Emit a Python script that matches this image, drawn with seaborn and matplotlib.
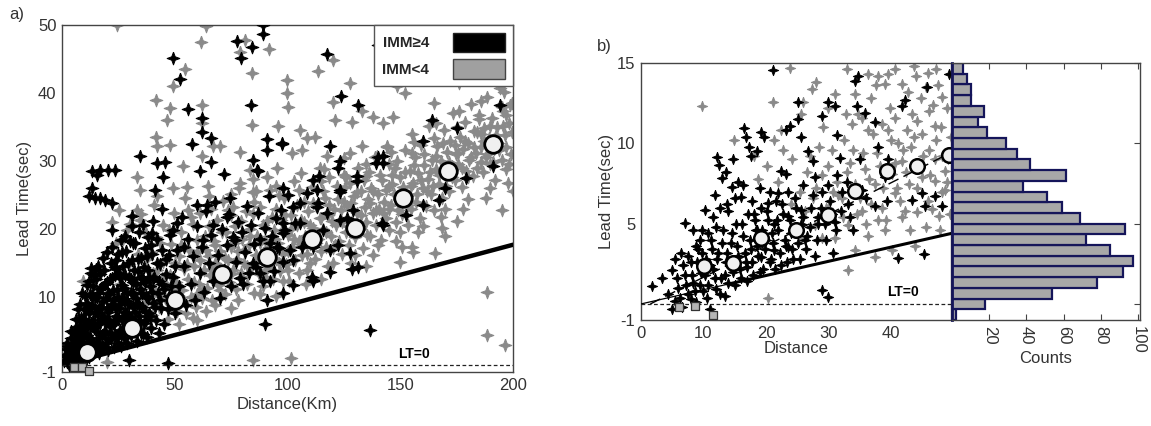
import numpy as np
import pandas as pd
import matplotlib
matplotlib.use("Agg")
import matplotlib.pyplot as plt
import seaborn as sns
from matplotlib.patches import Patch

# ---------------- Panel a data (Distance km, Lead time s) ----------------
a_hi_pts = [  # IMM >= 4 (black)
    (1.3,1.5),(2.0,0.4),(2.8,1.2),(3.2,0.0),(3.6,2.2),(4.1,0.9),(4.5,3.0),(5.0,1.8),(5.4,0.3),(5.8,3.8),(6.0,2.6),
    (6.5,1.2),(6.9,4.6),(7.2,3.2),(7.5,0.6),(7.9,5.8),(8.2,2.2),(8.5,7.0),(8.8,4.2),(9.2,1.4),(9.5,5.4),(9.8,8.3),(9.9,3.0),
    (10.3,6.6),(10.6,0.8),(10.9,9.2),(11.2,4.4),(11.5,2.4),(11.8,7.6),(12.2,10.4),(12.5,5.6),(12.8,1.6),(13.1,8.8),(13.4,3.6),(13.7,11.6),(13.9,6.6),(13.0,14.3),
    (14.3,2.4),(14.6,9.8),(14.9,5.0),(15.2,12.6),(15.5,7.6),(15.8,3.4),(16.1,10.6),(16.4,1.8),(16.7,6.2),(17.0,13.4),(17.3,8.6),(17.6,4.4),(17.9,11.4),(15.0,14.2),
    (18.2,2.6),(18.5,7.0),(18.8,14.0),(19.1,5.0),(19.4,9.8),(19.7,3.2),(20.0,12.2),(20.3,7.8),(20.6,2.2),(20.9,10.4),(21.2,5.8),(21.5,15.0),(21.8,8.6),(21.9,3.8),
    (22.3,12.8),(22.6,6.2),(22.9,2.6),(23.2,9.6),(23.5,4.4),(23.8,14.2),(24.1,7.2),(24.4,11.0),(24.7,3.2),(25.0,16.3),(25.3,8.4),(25.6,5.2),(25.9,12.8),(26.2,2.8),(26.5,9.8),(26.8,6.6),
    (27.1,14.6),(27.4,4.0),(27.7,11.4),(28.0,7.8),(28.3,16.8),(28.6,3.2),(28.9,9.4),(29.2,5.6),(29.5,13.0),(29.8,0.8),(30.1,7.0),(30.4,10.8),(30.7,4.4),(31.0,15.4),(31.3,8.6),(31.6,12.2),
    (32.0,5.8),(32.4,17.9),(32.8,9.8),(33.2,3.6),(33.6,13.8),(34.0,7.2),(34.4,11.2),(34.8,4.8),(35.2,15.8),(35.6,8.6),(36.0,12.6),(36.4,6.2),(36.8,17.2),(37.2,10.2),(37.6,4.2),
    (38.0,14.0),(38.5,7.6),(39.0,11.6),(39.5,5.4),(40.0,16.4),(40.5,9.2),(41.0,13.0),(41.5,6.6),(42.0,18.6),(42.5,10.6),(43.0,4.8),(43.5,14.8),(44.0,8.4),(44.5,12.0),(45.0,6.0),
    (46,15.6),(47,0.3),(47.5,10.2),(48,19.2),(49,13.0),(50,7.6),(51,17.0),(52,11.6),(53,21.8),(54,14.6),(55,8.8),(56,18.6),(57,12.0),(58,16.0),(59,9.6),
    (60,20.4),(61,13.6),(62,17.4),(63,10.8),(64,22.6),(65,15.0),(66,19.2),(67,12.4),(68,24.0),(69,16.2),(70,9.8),(71,20.0),(72,14.0),(73,17.6),(74,22.2),
    (75,11.6),(76,18.8),(77,15.2),(78,21.0),(79,12.8),(80,19.6),(81,16.6),(82,23.4),(83,13.6),(84,20.6),(85,17.8),(86,14.4),(87,22.4),(88,18.6),(89,12.4),
    (90,20.2),(91,16.4),(92,24.8),(93,19.0),(94,13.8),(95,21.6),(96,17.2),(97,22.8),(98,15.2),(99,19.8),(100,25.0),
    (26.5,16.7),(31.6,17.9),(30.9,21.9),(40.5,21.2),(44.2,22.9),(50.9,20.9),(54,17.4),(59.7,23.6),(64.2,23.6),(67.1,20.6),(62.7,18.4),
    (74.5,24.5),(73,21.8),(76.7,18.4),(80.4,12.0),(84.8,15.0),(92.3,17.9),(98.1,20.9),(102.5,23.3),(105.5,23.8),(103.3,20.9),(111.4,27.2),
    (113,25.8),(113,23.3),(115.9,19.9),(106.5,17.4),(102.5,15.5),(110.7,13.0),(111.2,12.3),(123.3,25.8),(126.3,21.6),(122.5,17.7),(128.5,14.2),(131.4,14.5),
    (160.2,32.9),(163.9,36.1),(175,34.8),(194.3,38.3),(169.8,26.0),(167.3,24.3),(179.2,27.5),(191,29.2),(160.2,23.6),(152.6,22.1),(142.2,20.6),
    (139.2,29.7),(142.5,29.7),(130.7,27.0),(122.5,29.0),(118.8,32.2),(114,27.8),(123.3,25.5),(108.5,25.3),(98,26.0),(97.4,32.6),(91,31.6),(86.3,28.7),
    (113.4,23.8),(117.4,22.3),(123.3,21.4),(129.2,22.8),(105.5,20.9),(98.1,19.4),(95.2,17.4),(101.1,16.9),(111.4,17.4),(118.8,16.9),(127.7,16.5),
    (118.8,13.7),(111.4,12.5),(102.5,11.8),(92.2,12.3),(87.8,13.5),(90.8,9.6),(98.1,10.6),(141.8,20.9),
    (90,6.1),(136.5,5.2),
    (49.4,45.1),(52.3,42.0),(56,37.6),(62.2,36.4),(62,34.2),(66,33.4),(57.5,32.5),(65.9,29.8),(61.2,28.5),(72,28.1),(77.5,47.7),(79.4,45.1),
    (84.4,46.7),(89,50.0),(89,48.7),(83.8,38.2),(84.8,30.2),(87,28.5),(91,33.3),(97.4,32.5),(117.4,45.7),(123.7,39.6),(131.1,38.2),(123.3,30.0),
    (140,47.1),(144,49.9),(140.3,30.6),(142.5,30.7),(130.7,27.8),
    (13.2,28.5),(15.4,28.0),(16.9,28.7),(20.5,28.7),(23.5,28.7),(13.2,26.0),(12.1,24.8),(14.6,24.5),(16.9,24.5),(19.1,24.3),(22.0,23.9),
    (22.0,19.9),(23.5,14.5),(30.9,20.4),(41.2,25.8),(44.9,27.7),(42.0,29.7),(45.7,29.9),(34.6,30.7),
]
a_hi_dense = [  # extra readings in the solid black mass near the origin
    (1.0,0.6),(1.8,2.4),(2.4,3.2),(3.0,1.6),(3.8,4.0),(4.4,2.0),(5.2,4.8),(5.6,1.0),(6.2,5.6),(6.6,3.6),(7.0,2.0),(7.4,6.6),(7.8,4.0),
    (8.2,1.0),(8.6,5.0),(9.0,3.4),(9.4,6.8),(9.8,2.2),(10.2,4.8),(10.6,8.2),(11.0,3.4),(11.4,6.0),(11.8,1.2),(12.2,8.4),(12.6,4.0),
    (13.0,6.2),(13.4,10.2),(13.8,2.0),(14.2,5.4),(14.6,7.8),(15.0,3.0),(15.4,10.0),(15.8,6.0),(16.2,8.4),(16.6,4.0),(17.0,11.2),
    (17.4,2.4),(17.8,7.2),(18.2,9.4),(18.6,4.8),(19.0,12.0),(19.4,6.2),(19.8,8.2),(20.2,3.8),(20.6,10.6),(21.0,6.6),(21.4,12.6),
    (21.8,4.8),(22.2,9.0),(22.6,11.0),(23.0,6.0),(23.4,13.2),(23.8,8.2),(24.2,4.2),(24.6,10.0),(25.0,6.8),(25.4,13.6),(25.8,9.0),
    (26.2,4.8),(26.6,11.8),(27.0,7.2),(27.4,9.6),(27.8,13.2),(28.2,5.6),(28.6,10.6),(29.0,7.6),(29.4,15.0),(29.8,9.0),(30.2,5.2),
    (30.6,12.6),(31.0,6.8),(31.4,10.4),(31.8,14.0),(32.2,7.8),(32.6,12.0),(33.0,5.0),(33.4,9.2),(33.8,15.6),(34.2,8.8),(34.6,6.4),
    (35.0,13.0),(35.4,10.6),(35.8,4.6),(36.2,14.4),(36.6,8.0),(37.0,12.2),(37.4,6.6),(37.8,16.0),(38.2,9.8),(38.6,13.0),(39.0,7.2),
    (39.4,17.6),(39.8,10.8),(40.4,12.6),(41.2,8.6),(42.0,15.0),(42.8,12.4),(43.6,9.6),(44.4,17.0),(45.2,11.2),(46.0,13.4),(46.8,8.2),
    (47.6,16.2),(48.4,11.6),(49.2,19.8),(50.0,14.6),(10.0,10.2),(11.0,11.8),(12.0,12.4),(14.0,13.2),(16.0,14.6),(18.0,15.8),(20.0,16.6),
    (22.0,17.4),(24.0,15.4),(26.0,18.4),(28.0,19.0),(30.0,18.2),(34.0,19.6),(36.0,20.6),(38.0,18.8),(40.0,19.4),(8.0,9.0),(6.0,6.8),
    (4.0,5.0),(2.2,2.8),(7.0,8.2),(9.0,10.6),(12.8,13.6),
]
a_lo_pts = [  # IMM < 4 (grey)
    (19.8,0.4),(9.4,12.4),(21,6.0),(23,10.0),(24,18.0),(22,21.0),(25.3,22.8),(28.7,19.9),(34.6,21.4),(33.1,22.8),
    (25.5,12.0),(26.4,8.6),(27.2,18.6),(28.1,10.4),(28.8,6.4),(29.5,14.8),(30.3,20.8),(31.2,9.2),(32.0,12.6),(32.8,4.6),(33.5,16.4),(34.2,7.8),(34.9,22.2),(35.0,11.2),
    (35.8,14.2),(36.5,5.6),(37.2,19.4),(37.9,9.6),(38.6,12.4),(39.3,16.6),(40.0,7.4),(40.7,23.6),(41.4,11.0),(42.1,14.0),(42.8,8.6),(43.5,18.0),(44.2,12.8),(44.9,20.6),
    (45.6,9.8),(46.3,15.4),(47.0,6.8),(47.7,13.2),(48.4,17.8),(49.1,10.6),(49.8,22.4),(50.5,12.2),(51.2,8.0),(51.9,16.0),(52.6,19.6),(53.3,11.0),(54.0,14.2),(54.7,24.6),(55.0,7.6),
    (55.8,12.6),(56.5,17.0),(57.2,10.0),(57.9,20.8),(58.6,14.6),(59.3,8.6),(60.0,16.6),(60.7,12.0),(61.4,22.4),(62.1,9.8),(62.8,14.0),(63.5,19.0),(64.2,11.4),(64.9,26.4),(65.0,16.0),
    (65.8,13.2),(66.5,9.6),(67.2,18.2),(67.9,15.0),(68.6,21.4),(69.3,11.8),(70.0,16.8),(70.7,13.6),(71.4,24.2),(72.1,10.4),(72.8,19.6),(73.5,15.4),(74.2,12.2),(74.9,22.0),(75.0,17.4),
    (75.8,14.0),(76.5,20.4),(77.2,11.2),(77.9,16.8),(78.6,26.0),(79.3,13.6),(80.0,18.6),(80.7,15.0),(81.4,22.6),(82.1,12.0),(82.8,17.6),(83.5,20.0),(84.2,14.6),(84.9,27.4),(85.0,10.6),
    (85.8,16.2),(86.5,19.0),(87.2,13.4),(87.9,23.2),(88.6,15.8),(89.3,11.6),(90.0,18.4),(90.7,21.2),(91.4,14.4),(92.1,25.8),(92.8,17.0),(93.5,12.6),(94.2,19.8),(94.9,15.6),(95.0,23.0),
    (95.8,18.0),(96.5,13.8),(97.2,21.4),(97.9,16.4),(98.6,24.6),(99.3,14.8),(100.0,19.2),(100.7,12.4),(101.4,22.0),(102.1,17.4),(102.8,27.0),(103.5,15.4),(104.2,20.6),(104.9,18.2),(105.0,13.6),
    (105.8,21.4),(106.5,16.2),(107.2,24.0),(107.9,19.0),(108.6,14.0),(109.3,22.6),(110.0,17.8),(110.7,26.2),(111.4,20.2),(112.1,15.6),(112.8,23.4),(113.5,18.6),(114.2,29.0),(114.9,21.6),(115.0,16.8),
    (115.8,20.0),(116.5,24.6),(117.2,17.4),(117.9,22.0),(118.6,27.6),(119.3,19.0),(120.0,15.0),(120.7,23.0),(121.4,20.6),(122.1,26.4),(122.8,18.2),(123.5,22.8),(124.2,16.4),(124.9,24.0),(125.0,30.4),
    (125.8,19.6),(126.5,23.4),(127.2,17.6),(127.9,26.8),(128.6,21.2),(129.3,24.8),(130.0,18.8),(130.7,22.4),(131.4,29.0),(132.1,20.0),(132.8,25.6),(133.5,17.2),(134.2,23.2),(134.9,27.8),(135.0,21.0),
    (135.8,24.4),(136.5,19.0),(137.2,26.0),(137.9,22.4),(138.6,30.6),(139.3,20.6),(140.0,25.2),(140.7,23.0),(141.4,18.4),(142.1,27.2),(142.8,24.0),(143.5,21.6),(144.2,32.0),(144.9,26.4),(145.0,19.8),
    (145.8,23.6),(146.5,28.0),(147.2,25.2),(147.9,21.0),(148.6,30.0),(149.3,24.4),(150.0,27.6),(150.7,22.2),(151.4,26.2),(152.1,31.6),(152.8,24.8),(153.5,20.6),(154.2,28.6),(154.9,23.0),(155.0,34.0),
    (155.8,26.8),(156.5,30.6),(157.2,24.0),(157.9,28.2),(158.6,21.6),(159.3,32.4),(160.0,26.0),(160.7,29.4),(161.4,23.4),(162.1,27.4),(162.8,35.2),(163.5,25.2),(164.2,30.2),(164.9,22.8),
    (165.8,28.8),(166.5,32.2),(167.2,26.6),(167.9,30.0),(168.6,24.6),(169.3,34.6),(170.0,28.0),(170.7,31.4),(171.4,25.6),(172.1,33.0),(172.8,29.2),(173.5,37.0),(174.2,27.2),(174.9,31.0),
    (175.8,29.6),(176.5,33.6),(177.2,26.2),(177.9,31.8),(178.6,35.8),(179.3,28.6),(180.0,32.6),(180.7,30.2),(181.4,38.4),(182.1,27.8),(182.8,34.4),(183.5,31.2),(184.2,29.0),(184.9,36.2),
    (185.8,32.0),(186.5,28.4),(187.2,34.8),(187.9,30.6),(188.6,39.4),(189.3,33.4),(190.0,29.6),(190.7,36.4),(191.4,31.8),(192.1,27.2),(192.8,35.0),(193.5,32.6),(194.2,40.8),(194.9,30.2),
    (195.6,37.4),(196.3,33.8),(197.0,28.8),(197.7,42.0),(198.4,35.6),(199.1,31.0),(199.6,38.6),
    (24.5,50.0),(63.7,49.8),(61.6,47.5),(81,47.8),(79,46.1),(91.9,46.5),(84.4,42.9),(54.5,43.6),(49.4,41.0),(41.7,38.9),(47.9,37.8),(46.4,36.1),
    (41.7,33.5),(42,32.2),(47.9,32.4),(53.8,29.3),(62,38.3),(62,35.6),(66.8,32.2),(70,32.2),(78.9,31.4),(84.4,35.3),(83.4,28.7),(95.9,35.1),
    (99.6,41.9),(99.6,40.0),(100.4,38.0),(105.5,34.6),(108.5,33.4),(112.2,33.6),(113.4,43.2),(120,44.9),(120,38.7),(121,36.1),(127.7,41.4),
    (128.5,35.8),(132.9,37.3),(138,36.5),(142.5,35.6),(146.9,36.5),(145.5,42.4),(148.4,41.0),(33.1,27.7),(34.6,25.8),(42,24.8),(49.4,26.0),
    (55.3,26.2),(62,30.7),(78.9,26.8),(84.8,25.5),(90.8,27.7),(95.2,29.0),(101.9,31.2),(106.3,31.6),(117.4,30.7),(127.7,31.2),(132.9,32.2),
    (139.6,30.7),(144,32.2),(152,40.0),(158,44.0),(165,38.6),(176,41.4),(186,38.8),(197,36.8),(198.7,38.3),
    (84.6,0.7),(101.6,1.0),(188.6,10.7),(188.3,4.4),(196.5,3.0),
    (60,6.6),(75,8.4),(95,10.2),(115,12.6),(135,14.6),(155,17.4),(175,21.2),(195,22.8),(170,19.0),(150,15.2),
    (165.4,16.5),(168.4,20.1),(155.8,16.7),(150.6,17.4),
]
a_lo_band = [  # extra readings in the dense grey band
    (36.2,9.0),(37.6,15.6),(38.9,6.6),(40.3,13.6),(41.8,18.8),(43.2,10.2),(44.6,15.2),(46.0,12.0),(47.3,19.8),(48.7,8.8),(50.1,15.0),
    (51.5,11.2),(52.9,17.6),(54.3,9.4),(55.6,14.8),(57.0,21.8),(58.4,12.2),(59.8,18.4),(61.1,15.4),(62.5,11.2),(63.9,17.0),(65.3,20.4),
    (66.6,14.2),(68.0,17.6),(69.4,12.8),(70.8,19.6),(72.2,15.8),(73.6,22.8),(75.0,13.4),(76.4,18.0),(77.8,15.6),(79.2,21.2),(80.6,17.0),
    (82.0,14.6),(83.4,19.0),(84.8,22.2),(86.2,15.0),(87.6,18.0),(89.0,20.6),(90.4,14.0),(91.8,17.4),(93.2,21.8),(94.6,18.6),(96.0,15.0),
    (97.4,19.8),(98.8,22.0),(100.2,16.8),(101.6,20.0),(103.0,18.6),(104.4,23.6),(105.8,17.8),(107.2,21.0),(108.6,16.4),(110.0,20.6),
    (111.4,23.8),(112.8,18.0),(114.2,21.6),(115.6,25.6),(117.0,19.6),(118.4,23.6),(119.8,21.2),(121.2,17.6),(122.6,24.4),(124.0,21.0),
    (125.4,26.2),(126.8,20.4),(128.2,23.8),(129.6,19.8),(131.0,25.4),(132.4,22.0),(133.8,27.2),(135.2,19.2),(136.6,23.8),(138.0,25.6),
    (139.4,22.8),(140.8,28.0),(142.2,22.4),(143.6,25.8),(145.0,23.0),(146.4,26.6),(147.8,29.0),(149.2,22.8),(150.6,25.6),(152.0,28.4),
    (153.4,23.6),(154.8,26.4),(156.2,29.4),(157.6,25.2),(159.0,27.2),(160.4,31.0),(161.8,25.6),(163.2,28.4),(164.6,26.4),(166.0,30.8),
    (167.4,28.0),(168.8,32.6),(170.2,26.4),(171.6,29.8),(173.0,27.6),(174.4,32.4),(175.8,31.2),(177.2,29.0),(178.6,33.0),(180.0,27.6),
    (181.4,30.6),(182.8,32.0),(184.2,34.2),(185.6,29.8),(187.0,33.0),(188.4,31.0),(189.8,35.2),(191.2,29.8),(192.6,33.8),(194.0,31.6),
    (195.4,35.2),(196.8,32.0),(198.2,29.6),(199.5,34.2),
    (60,10.4),(70,11.0),(80,13.0),(90,13.0),(100,14.0),(110,15.0),(120,17.2),(130,16.2),(140,17.6),(150,19.6),(160,20.4),(170,23.0),
    (180,24.4),(190,26.0),(200,25.6),
    (65,24.8),(75,25.2),(85,24.0),(95,26.4),(105,25.8),(115,27.0),(125,28.0),(135,29.6),(145,29.6),(155,31.2),(165,33.4),(175,35.0),
    (185,36.8),(195,38.0),
    (56,22.8),(66,23.0),(76,23.2),(86,25.6),(96,25.0),(106,28.2),(116,28.8),(126,27.6),(136,28.4),(146,31.4),(156,32.8),(166,35.6),
    (176,37.4),(186,34.0),(196,40.2),
    (52,6.0),(58,7.0),(64,8.0),(68,8.8),(78,9.6),(88,10.4),(98,12.4),(108,12.0),(118,14.6),(128,15.0),(138,16.2),(148,18.2),(158,19.6),
    (168,21.8),(178,23.0),(188,24.6),(198,26.8),
]
a_mean_x = [11, 31, 50, 71, 91, 111, 130, 151, 171, 191]
a_mean_y = [2.0, 5.4, 9.6, 13.4, 15.9, 18.5, 20.2, 24.5, 28.5, 32.5]
a_sq_x = [5.5, 9.0, 12.0]
a_sq_y = [-0.22, -0.22, -0.85]
a_line_x = [12.0, 200.0]
a_line_y = [1.06, 17.7]
a_thin_x = [0.0, 12.0]
a_thin_y = [0.0, 1.06]

# ---------------- Panel b data ----------------
b_hi_pts = [
    (1.7,1.12),(4.95,2.11),(7.1,5.02),(10.3,5.85),(12.2,9.17),(12.5,8.65),(13.0,7.82),(14.6,7.3),(15.5,7.6),(16.0,6.68),(16.5,10.94),
    (16.8,10.4),(17.3,9.8),(17.6,9.2),(19.2,10.7),(18.6,9.5),(19.7,10.4),(21.2,14.57),(21.9,6.89),(22.4,8.3),(23.2,8.1),(23.2,10.8),
    (23.8,11.1),(25.1,12.6),(25.1,11.5),(25.6,10.4),(26.7,9.5),(27.5,8.9),(27.8,7.9),(28.9,11.7),(29.9,12.6),(31.0,12.3),(31.3,10.5),
    (31.8,9.1),(34.2,13.9),(34.8,14.2),(34.5,12.3),(35.9,11.9),(37.5,11.3),(38.0,9.8),(39.6,9.0),(41.8,12.3),(42.3,12.7),(45.8,13.5),
    (49.3,14.3),(45.0,6.9),(45.5,6.1),(47.1,6.7),(48.2,6.1),(41.2,2.84),(45.3,3.1),(28.9,0.87),(29.9,0.46),(37.5,6.1),(39.4,6.4),
    (43.4,6.5),(39.1,7.9),(35.3,7.07),(33.2,6.24),(31.0,5.1),(28.3,5.0),(26.2,3.97),(23.5,3.55),(21.3,3.35),(19.2,2.9),(17.0,2.27),
    (18.6,4.6),(21.3,5.0),(23.5,5.45),(25.6,5.85),(20.3,6.26),(18.1,5.6),
    (5.5,0.2),(6.0,1.0),(6.5,-0.2),(7.0,1.8),(7.5,0.6),(8.0,2.6),(8.4,1.3),(8.8,0.1),(9.2,3.4),(9.6,1.9),(10.0,0.8),(10.4,2.8),
    (10.8,1.2),(11.2,4.0),(11.6,2.2),(12.0,0.9),(12.4,3.2),(12.8,1.6),(13.2,4.6),(13.6,2.6),(14.0,1.3),(14.4,3.8),(14.8,2.0),(15.2,5.0),
    (15.6,3.0),(16.0,1.6),(16.4,4.2),(16.8,2.6),(17.2,5.6),(17.6,3.4),(18.0,1.8),(18.4,4.6),(18.8,3.0),(19.2,6.0),(19.6,2.2),(20.0,4.0),
    (20.4,5.2),(20.8,2.8),(21.2,3.8),(21.6,6.4),(22.0,4.6),(22.4,2.4),(22.8,5.6),(23.2,3.6),(23.6,7.0),(24.0,4.4),(24.4,2.8),(24.8,6.0),
    (25.2,3.8),(25.6,5.0),(26.0,7.4),(26.6,4.2),(27.2,6.0),(27.8,3.0),(28.4,5.4),(29.0,7.0),(29.6,4.0),(30.2,6.4),(30.8,3.2),(31.4,8.0),
    (32.0,5.8),(33.0,7.6),(34.0,4.6),(35.0,9.0),(36.0,6.6),(8.8,3.6),(8.0,0.3),(11.0,-0.3),(13.5,0.5),(9.8,4.6),(11.5,5.4),(13.8,6.2),
]
b_hi_dense = [
    (4.4,0.6),(5.0,-0.3),(5.8,1.6),(6.2,0.4),(6.8,2.4),(7.2,1.2),(7.6,3.0),(8.2,1.8),(8.6,0.8),(9.0,2.6),(9.4,1.2),(9.8,3.2),(10.2,1.8),
    (10.6,0.4),(11.0,2.4),(11.4,3.4),(11.8,1.6),(12.2,2.8),(12.6,0.6),(13.0,3.8),(13.4,1.8),(13.8,3.2),(14.2,2.4),(14.6,4.4),(15.0,1.2),
    (15.4,3.6),(15.8,2.2),(16.2,5.0),(16.6,3.2),(17.0,1.4),(17.4,4.0),(17.8,2.6),(18.2,5.2),(18.6,3.6),(19.0,2.0),(19.4,4.6),(19.8,3.4),
    (20.2,5.8),(20.6,2.6),(21.0,4.4),(21.4,2.2),(21.8,5.2),(22.2,3.2),(22.6,6.2),(23.0,4.0),(23.4,2.6),(23.8,5.2),(24.2,3.4),(24.6,6.6),
    (25.0,4.6),(25.4,2.8),(26.0,5.4),(26.4,3.4),(27.0,4.8),(27.6,6.8),(28.2,4.0),(28.8,6.0),(29.4,5.0),(30.0,7.4),(30.6,5.6),(31.2,4.6),
    (32.2,7.0),(33.4,5.4),(12.0,4.8),(10.8,4.4),(9.4,4.0),(8.4,4.6),(12.6,6.0),(14.0,5.8),(15.0,6.6),(16.4,7.4),(17.8,6.4),(19.0,7.2),
    (20.6,7.0),(13.6,8.2),(14.8,9.0),(11.8,6.8),(6.4,3.2),(5.4,2.8),(3.4,1.6),
]
b_lo_pts = [
    (23.8,14.7),(21.1,12.6),(14.9,10.2),(9.8,12.3),(18.1,9.2),(21.3,10.2),(22.4,10.8),(25.6,11.8),(27.3,13.4),(31.0,13.1),(34.2,13.1),
    (36.4,14.3),(38.0,14.2),(39.6,14.3),(43.7,14.8),(47.2,14.6),(39.1,13.7),(41.8,13.7),(44.0,14.2),(45.6,13.5),(48.2,12.9),(34.8,11.8),
    (36.4,10.8),(40.7,11.6),(43.4,11.8),(46.1,12.0),(47.1,11.1),(43.7,10.4),(46.1,9.6),(48.2,9.2),(48.7,8.3),(41.8,8.9),(40.2,8.1),
    (37.5,7.45),(34.2,7.45),(32.1,6.6),(29.9,5.97),(27.8,4.9),(25.6,4.1),(28.9,4.1),(31.0,4.1),(33.2,4.9),(35.3,5.8),(38.5,6.0),
    (40.7,6.9),(42.9,7.45),(45.0,7.9),(47.1,7.66),(48.7,7.1),(46.6,5.9),(47.7,5.5),(44.2,5.7),(41.8,5.4),(39.1,4.6),(36.4,4.2),
    (34.2,3.35),(33.2,2.1),(37.5,2.9),(40.2,3.35),(20.3,0.34),
    (26.5,8.2),(27.5,6.6),(28.5,9.8),(30.0,8.6),(31.5,6.8),(32.5,10.2),(33.5,8.8),(34.5,5.6),(35.5,9.4),(36.5,7.8),(37.2,10.6),
    (38.2,8.6),(39.2,5.2),(40.0,10.2),(41.0,7.2),(42.0,9.6),(43.0,4.6),(44.0,8.6),(45.0,10.6),(46.0,6.4),(47.0,9.0),(48.0,11.0),
    (49.0,7.6),(49.6,10.4),(36.8,12.8),(39.8,12.2),(42.6,10.8),(44.8,12.8),(47.6,13.6),(33.8,11.2),(29.2,11.0),(24.2,9.0),(22.0,7.6),
    (20.2,8.6),(18.8,7.8),
]
b_lo_band = [
    (25.4,7.0),(26.2,5.8),(27.0,9.2),(28.0,7.2),(29.0,8.0),(29.6,6.0),(30.6,9.6),(31.4,7.6),(32.4,5.4),(33.0,8.2),(34.0,9.6),(35.0,6.6),
    (35.8,8.4),(36.8,6.2),(37.8,9.4),(38.8,7.2),(39.6,10.8),(40.6,8.8),(41.4,6.4),(42.4,8.2),(43.2,9.8),(44.2,7.2),(45.2,9.2),(46.2,8.0),
    (47.2,10.2),(48.2,7.0),(49.2,9.0),(49.4,5.6),(47.8,4.6),(45.6,4.8),(43.8,3.6),(42.2,5.8),(38.0,5.2),(36.0,5.0),(30.8,7.0),(32.8,11.8),
    (35.4,11.6),(38.6,11.2),(41.2,10.0),(44.2,11.4),(46.8,12.4),(49.0,12.2),(37.6,13.6),(40.6,14.6),(42.8,13.2),(46.0,14.4),(30.0,12.2),
    (26.0,12.6),(28.0,13.8),(33.0,14.6),(24.0,6.2),(22.8,9.6),
]
b_mean_x = [10.05, 14.8, 19.2, 24.8, 29.9, 34.2, 39.4, 44.2, 49.3]
b_mean_y = [2.36, 2.57, 4.09, 4.6, 5.54, 7.05, 8.3, 8.6, 9.3]
b_sq_x = [6.1, 8.7, 11.6]
b_sq_y = [-0.17, -0.13, -0.69]
b_fit_x = [1.5, 50.0]
b_fit_y = [0.0, 9.5]
b_line_x = [14.0, 50.0]
b_line_y = [1.24, 4.42]
b_thin_x = [0.0, 14.0]
b_thin_y = [0.0, 1.24]

# histogram counts (bottom bin -> top bin), bins from -1 to 15
hist_counts = [2, 18, 54, 78, 92, 97, 85, 72, 93, 69, 59, 51, 38, 61, 42, 35, 29, 19, 14, 17, 10, 10, 8, 6]

legend_labels = ["IMM\u22654", "IMM<4"]

# ---------------- styling ----------------
sns.set_theme(style="white")
plt.rcParams['font.family'] = ['Liberation Sans', 'DejaVu Sans']
plt.rcParams['axes.edgecolor'] = '#444444'
plt.rcParams['axes.linewidth'] = 1.0
plt.rcParams['axes.unicode_minus'] = False

BLACK = '#000000'
GREY = '#8a8a8a'
TXT = '#333333'
star = [(0, 1), (0.27, 0.27), (1, 0), (0.27, -0.27), (0, -1), (-0.27, -0.27), (-1, 0), (-0.27, 0.27), (0, 1)]

fig = plt.figure(figsize=(11.51, 4.26), dpi=100)
axa = fig.add_axes([0.0539, 0.1268, 0.3918, 0.8146])
axb = fig.add_axes([0.5569, 0.2488, 0.2693, 0.6033])
axh = fig.add_axes([0.8271, 0.2488, 0.1633, 0.6033])

def pts_df(*groups):
    rows = [p for g in groups for p in g]
    return pd.DataFrame(rows, columns=["x", "y"])

def draw_panel(ax, lo, hi, s):
    sns.scatterplot(data=lo, x="x", y="y", ax=ax, marker=star, s=s, color=GREY,
                    edgecolor=GREY, linewidth=0.7, zorder=2)
    sns.scatterplot(data=hi, x="x", y="y", ax=ax, marker=star, s=s, color=BLACK,
                    edgecolor=BLACK, linewidth=0.7, zorder=3)

# ---------- panel a ----------
draw_panel(axa, pts_df(a_lo_pts, a_lo_band), pts_df(a_hi_pts, a_hi_dense), 85)
sns.lineplot(x=a_line_x, y=a_line_y, ax=axa, color='black', linewidth=3.2, zorder=4)
sns.lineplot(x=a_thin_x, y=a_thin_y, ax=axa, color='black', linewidth=1.2, zorder=4)
axa.axhline(0, color='#222222', linestyle=(0, (3, 2)), linewidth=0.9, zorder=4)
sns.scatterplot(x=a_mean_x, y=a_mean_y, ax=axa, s=160, color='#f0f0f0', edgecolor='black',
                linewidth=2.0, zorder=6)
sns.scatterplot(x=a_sq_x, y=a_sq_y, ax=axa, marker='s', s=32, color='#b5b5b5', edgecolor='#333333',
                linewidth=0.9, zorder=6, clip_on=False)
axa.text(156, 0.6, "LT=0", fontsize=10, fontweight='bold', ha='center', va='bottom', color='black')
axa.set_xlim(0, 200)
axa.set_ylim(-1, 50)
axa.set_xticks([0, 50, 100, 150, 200])
axa.set_yticks([-1, 10, 20, 30, 40, 50])
axa.set_xlabel("Distance(Km)", fontsize=12, color=TXT, labelpad=3)
axa.set_ylabel("Lead Time(sec)", fontsize=12, color=TXT, labelpad=4)

handles = [Patch(facecolor='black', edgecolor='#222222'), Patch(facecolor='#a0a0a0', edgecolor='#444444')]
leg = axa.legend(handles, legend_labels, loc='upper right', borderaxespad=0, markerfirst=False,
                 handlelength=3.4, handleheight=1.6, fancybox=False, framealpha=1,
                 edgecolor='#555555', prop={'weight': 'bold', 'size': 11}, borderpad=0.5,
                 labelspacing=0.45, handletextpad=1.6)
leg.set_zorder(10)

# ---------- panel b ----------
draw_panel(axb, pts_df(b_lo_pts, b_lo_band), pts_df(b_hi_pts, b_hi_dense), 55)
sns.lineplot(x=b_line_x, y=b_line_y, ax=axb, color='black', linewidth=2.2, zorder=4)
sns.lineplot(x=b_thin_x, y=b_thin_y, ax=axb, color='black', linewidth=0.9, zorder=4)
sns.lineplot(x=b_fit_x, y=b_fit_y, ax=axb, color='black', linewidth=1.0, zorder=4,
             linestyle=(0, (8, 4)))
axb.axhline(0, color='#222222', linestyle=(0, (3, 2)), linewidth=0.9, zorder=4)
sns.scatterplot(x=b_mean_x, y=b_mean_y, ax=axb, s=110, color='#f0f0f0', edgecolor='black',
                linewidth=1.8, zorder=6, clip_on=False)
sns.scatterplot(x=b_sq_x, y=b_sq_y, ax=axb, marker='s', s=30, color='#b5b5b5', edgecolor='#333333',
                linewidth=0.9, zorder=6, clip_on=False)
axb.text(42, 0.3, "LT=0", fontsize=10, fontweight='bold', ha='center', va='bottom', color='black')
axb.set_xlim(0, 49.6)
axb.set_ylim(-1, 15)
axb.set_xticks([0, 10, 20, 30, 40])
axb.set_yticks([-1, 5, 10, 15])
axb.set_xlabel("Distance", fontsize=12, color=TXT, labelpad=0)
axb.set_ylabel("Lead Time(sec)", fontsize=12, color=TXT, labelpad=2)

# ---------- histogram ----------
hist_edges = [-1 + k * 16.0 / len(hist_counts) for k in range(len(hist_counts) + 1)]
hist_centers = [(hist_edges[k] + hist_edges[k + 1]) / 2 for k in range(len(hist_counts))]
hist_df = pd.DataFrame({"lead": hist_centers, "count": hist_counts})
sns.histplot(data=hist_df, y="lead", weights="count", bins=hist_edges, ax=axh, color='#a8a8a8',
             edgecolor='#15155a', linewidth=1.6, alpha=1)
axh.set_ylim(-1, 15)
axh.set_xlim(0, 101)
axh.set_xticks([20, 40, 60, 80, 100])
axh.set_xticklabels(["20", "40", "60", "80", "100"], rotation=-90)
axh.set_yticks([0, 5, 10, 15])
axh.set_yticklabels([])
axh.set_ylabel("")
axh.set_xlabel("Counts", fontsize=12, color=TXT, labelpad=-2)
axh.spines['left'].set_color('#15155a')
axh.spines['left'].set_linewidth(2.0)

for ax in (axa, axb):
    ax.tick_params(direction='in', length=4, width=0.8, colors='#444444', labelsize=12,
                   labelcolor=TXT, pad=4)
axh.tick_params(direction='in', length=4, width=0.8, colors='#444444', labelsize=12,
                labelcolor=TXT, top=True, right=True, bottom=True, left=False, pad=4)

fig.text(0.008, 0.965, "a)", fontsize=12, color=TXT, va='center')
fig.text(0.519, 0.89, "b)", fontsize=12, color=TXT, va='center')

fig.savefig("out.png", dpi=100)
